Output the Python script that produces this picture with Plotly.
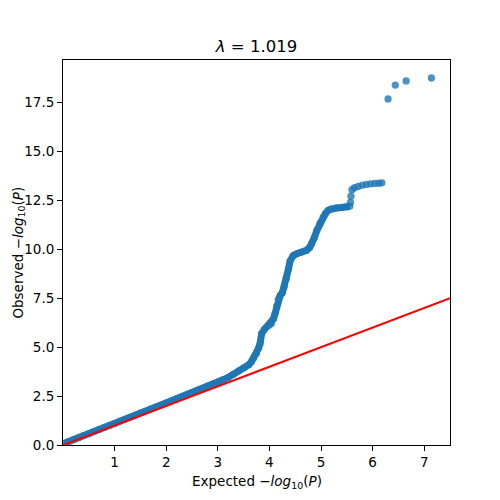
import plotly.graph_objects as go

# expected vs observed -log10(P)
expected = [0.02, 0.1, 0.2, 0.3, 0.4, 0.5, 0.6, 0.7, 0.8, 0.9,
            1.0, 1.1, 1.2, 1.3, 1.4, 1.5, 1.6, 1.7, 1.8, 1.9,
            2.0, 2.1, 2.2, 2.3, 2.4, 2.5, 2.6, 2.7, 2.8, 2.9,
            3.0, 3.1, 3.2, 3.3, 3.4, 3.5, 3.6, 3.65, 3.7, 3.75,
            3.79, 3.82, 3.85, 3.9, 3.95, 4.0, 4.04, 4.08, 4.11, 4.14,
            4.17, 4.21, 4.25, 4.29, 4.33, 4.37, 4.4, 4.46, 4.53, 4.62,
            4.72, 4.78, 4.82, 4.87, 4.92, 4.98, 5.04, 5.09, 5.14, 5.2,
            5.3, 5.4, 5.5, 5.56]
observed = [0.08, 0.16, 0.27, 0.37, 0.48, 0.58, 0.69, 0.79, 0.9, 1.0,
            1.1, 1.21, 1.31, 1.42, 1.52, 1.63, 1.73, 1.84, 1.94, 2.05,
            2.15, 2.26, 2.36, 2.47, 2.57, 2.68, 2.78, 2.89, 3.0, 3.1,
            3.21, 3.33, 3.45, 3.6, 3.78, 3.94, 4.1, 4.25, 4.45, 4.68,
            4.95, 5.19, 5.7, 5.9, 6.04, 6.12, 6.21, 6.45, 6.72, 7.1,
            7.45, 7.65, 7.78, 8.1, 8.5, 9.0, 9.4, 9.68, 9.78, 9.85,
            9.95, 10.1, 10.29, 10.6, 10.97, 11.35, 11.65, 11.85, 12.0, 12.08,
            12.12, 12.14, 12.17, 12.2]

# sparser tail and the top outliers
tail_expected = [5.57, 5.58, 5.6, 5.65, 5.72, 5.8, 5.88, 5.96, 6.04, 6.12, 6.18,
                 6.3, 6.44, 6.65, 7.14]
tail_observed = [12.4, 12.72, 13.05, 13.15, 13.22, 13.28, 13.32, 13.35, 13.37, 13.38, 13.4,
                 17.69, 18.4, 18.61, 18.76]

diag = [0, 7.5]
lam = 1.019

blue = "#1f77b4"
blue_a = "rgba(31,119,180,0.8)"
font = "DejaVu Sans"

fig = go.Figure()
fig.add_trace(go.Scatter(x=expected, y=observed, mode="lines+markers",
                         line=dict(color=blue, width=7),
                         marker=dict(color=blue_a, size=7, line=dict(width=0)),
                         showlegend=False))
fig.add_trace(go.Scatter(x=tail_expected, y=tail_observed, mode="markers",
                         marker=dict(color=blue_a, size=7.3, line=dict(width=0)),
                         showlegend=False))
fig.add_trace(go.Scatter(x=diag, y=diag, mode="lines",
                         line=dict(color="red", width=2), showlegend=False))

axis = dict(showline=True, mirror=True, linecolor="black", linewidth=1,
            ticks="outside", ticklen=5, tickcolor="black", showgrid=False,
            zeroline=False, automargin=False,
            tickfont=dict(family=font, size=13.5, color="black"))

# the page puts the figure 8px in from the top-left corner, so margins are shifted
fig.update_layout(
    width=500, height=500,
    margin=dict(l=55, r=58, t=52, b=63),
    paper_bgcolor="white", plot_bgcolor="white",
    font=dict(family=font, color="black"),
    title=dict(text=f"<i>λ</i> = {lam}", x=0.497, xanchor="center",
               y=1 - 44 / 500, yref="container", yanchor="bottom",
               font=dict(family=font, size=16.5, color="black")),
    xaxis=dict(axis, range=[0, 7.5], tickvals=[1, 2, 3, 4, 5, 6, 7]),
    yaxis=dict(axis, range=[0, 19.68], tickvals=[0, 2.5, 5, 7.5, 10, 12.5, 15, 17.5],
               tickformat=".1f"),
)

# axis labels placed by hand so they sit where the reference has them
fig.add_annotation(text="Expected −<i>log</i><sub>10</sub>(<i>P</i>)",
                   xref="paper", yref="paper", x=0.5, y=-0.096,
                   xanchor="center", yanchor="middle", showarrow=False,
                   font=dict(family=font, size=13.5, color="black"))
fig.add_annotation(text="Observed −<i>log</i><sub>10</sub>(<i>P</i>)",
                   xref="paper", yref="paper", x=-0.116, y=0.5, textangle=-90,
                   xanchor="center", yanchor="middle", showarrow=False,
                   font=dict(family=font, size=13.5, color="black"))

fig.write_html("out.html")
